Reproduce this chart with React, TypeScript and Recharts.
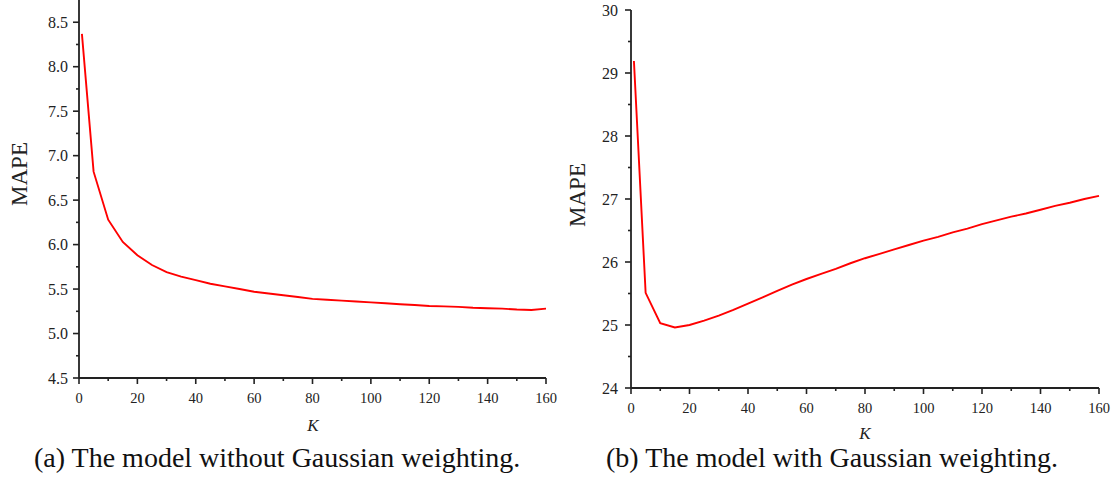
import { LineChart, Line, XAxis, YAxis } from 'recharts';

const K_VALUES = [1, 5, 10, 15, 20, 25, 30, 35, 40, 45, 50, 55, 60, 65, 70, 75, 80, 85, 90, 95, 100, 105, 110, 115, 120, 125, 130, 135, 140, 145, 150, 155, 160];

// (a) without Gaussian weighting
const MAPE_PLAIN = [8.37, 6.82, 6.28, 6.03, 5.88, 5.77, 5.69, 5.64, 5.6, 5.56, 5.53, 5.5, 5.47, 5.45, 5.43, 5.41, 5.39, 5.38, 5.37, 5.36, 5.35, 5.34, 5.33, 5.32, 5.31, 5.305, 5.3, 5.29, 5.285, 5.28, 5.27, 5.265, 5.28];

// (b) with Gaussian weighting
const MAPE_GAUSS = [29.19, 25.51, 25.03, 24.96, 25.0, 25.07, 25.15, 25.24, 25.34, 25.44, 25.54, 25.64, 25.73, 25.81, 25.89, 25.98, 26.06, 26.13, 26.2, 26.27, 26.34, 26.4, 26.47, 26.53, 26.6, 26.66, 26.72, 26.77, 26.83, 26.89, 26.94, 27.0, 27.05];

const X_MAJOR = [0, 20, 40, 60, 80, 100, 120, 140, 160];
const X_MINOR = [10, 30, 50, 70, 90, 110, 130, 150];
const LEFT_Y_MAJOR = [4.5, 5.0, 5.5, 6.0, 6.5, 7.0, 7.5, 8.0, 8.5];
const LEFT_Y_MINOR = [4.75, 5.25, 5.75, 6.25, 6.75, 7.25, 7.75, 8.25];
const RIGHT_Y_MAJOR = [24, 25, 26, 27, 28, 29, 30];
const RIGHT_Y_MINOR = [24.5, 25.5, 26.5, 27.5, 28.5, 29.5];

const TITLES = ['(a) The model without Gaussian weighting.', '(b) The model with Gaussian weighting.'];

const SERIF = '"Liberation Serif", "Times New Roman", serif';
const AXIS = '#222';
const INK = '#222';

const sorted = (a: number[], b: number[]) => [...a, ...b].sort((p, q) => p - q);

const plainData = K_VALUES.map((k, i) => ({ k, mape: MAPE_PLAIN[i] }));
const gaussData = K_VALUES.map((k, i) => ({ k, mape: MAPE_GAUSS[i] }));

// ticks point outward, majors longer, only majors get a label
const makeXTick = (major: number[]) => (props: any) => {
  const { x, y, payload } = props;
  const isMajor = major.includes(payload.value);
  return (
    <g>
      <line x1={x} x2={x} y1={y} y2={y + (isMajor ? 6 : 3)} stroke={AXIS} strokeWidth={1.6} />
      {isMajor && (
        <text x={x} y={y + 20} textAnchor="middle" dominantBaseline="central" fontFamily={SERIF} fontSize={14.5} fill={INK}>
          {payload.value}
        </text>
      )}
    </g>
  );
};

const makeYTick = (major: number[], fmt: (v: number) => string, gap: number) => (props: any) => {
  const { x, y, payload } = props;
  const isMajor = major.includes(payload.value);
  return (
    <g>
      <line x1={x - (isMajor ? 6 : 3)} x2={x} y1={y} y2={y} stroke={AXIS} strokeWidth={1.6} />
      {isMajor && (
        <text x={x - gap} y={y} textAnchor="end" dominantBaseline="central" fontFamily={SERIF} fontSize={16} fill={INK}>
          {fmt(payload.value)}
        </text>
      )}
    </g>
  );
};

const abs = (left: number, top: number): React.CSSProperties => ({ position: 'absolute', left, top });

export default function App() {
  return (
    <div style={{ position: 'absolute', left: 0, top: 0, width: 1120, height: 482, background: '#fff', overflow: 'hidden' }}>
      <div style={abs(0, 0)}>
        <LineChart width={560} height={430} data={plainData} margin={{ top: 0, right: 14, bottom: 2, left: 0 }}>
          <XAxis
            dataKey="k"
            type="number"
            domain={[0, 160]}
            ticks={sorted(X_MAJOR, X_MINOR)}
            interval={0}
            height={50}
            tickSize={0}
            tickMargin={0}
            tickLine={false}
            axisLine={{ stroke: AXIS, strokeWidth: 1.8 }}
            tick={makeXTick(X_MAJOR)}
          />
          <YAxis
            type="number"
            domain={[4.5, 8.75]}
            ticks={sorted(LEFT_Y_MAJOR, LEFT_Y_MINOR)}
            interval={0}
            width={79}
            tickSize={0}
            tickMargin={0}
            tickLine={false}
            axisLine={{ stroke: AXIS, strokeWidth: 1.8 }}
            tick={makeYTick(LEFT_Y_MAJOR, (v) => v.toFixed(1), 11)}
          />
          <Line dataKey="mape" type="linear" stroke="#ff0000" strokeWidth={1.9} dot={false} isAnimationActive={false} />
        </LineChart>
      </div>
      <div style={abs(560, 0)}>
        <LineChart width={560} height={440} data={gaussData} margin={{ top: 10, right: 21, bottom: 2, left: 0 }}>
          <XAxis
            dataKey="k"
            type="number"
            domain={[0, 160]}
            ticks={sorted(X_MAJOR, X_MINOR)}
            interval={0}
            height={50}
            tickSize={0}
            tickMargin={0}
            tickLine={false}
            axisLine={{ stroke: AXIS, strokeWidth: 1.8 }}
            tick={makeXTick(X_MAJOR)}
          />
          <YAxis
            type="number"
            domain={[24, 30]}
            ticks={sorted(RIGHT_Y_MAJOR, RIGHT_Y_MINOR)}
            interval={0}
            width={71}
            tickSize={0}
            tickMargin={0}
            tickLine={false}
            axisLine={{ stroke: AXIS, strokeWidth: 1.8 }}
            tick={makeYTick(RIGHT_Y_MAJOR, (v) => String(v), 13)}
          />
          <Line dataKey="mape" type="linear" stroke="#ff0000" strokeWidth={1.9} dot={false} isAnimationActive={false} />
        </LineChart>
      </div>

      {/* axis titles */}
      <div style={{ ...abs(19, 174), transform: 'translate(-50%, -50%) rotate(-90deg)', fontFamily: SERIF, fontSize: 23, color: INK, lineHeight: 1 }}>MAPE</div>
      <div style={{ ...abs(577, 195), transform: 'translate(-50%, -50%) rotate(-90deg)', fontFamily: SERIF, fontSize: 23, color: INK, lineHeight: 1 }}>MAPE</div>
      <div style={{ ...abs(313, 425), transform: 'translate(-50%, -50%)', fontFamily: SERIF, fontStyle: 'italic', fontSize: 17, color: INK, lineHeight: 1 }}>K</div>
      <div style={{ ...abs(865, 433), transform: 'translate(-50%, -50%)', fontFamily: SERIF, fontStyle: 'italic', fontSize: 17, color: INK, lineHeight: 1 }}>K</div>

      {/* sub-figure captions */}
      <div style={{ ...abs(34, 444), fontFamily: SERIF, fontSize: 28, color: '#111', lineHeight: 1, whiteSpace: 'nowrap' }}>{TITLES[0]}</div>
      <div style={{ ...abs(606, 444), fontFamily: SERIF, fontSize: 28, color: '#111', lineHeight: 1, whiteSpace: 'nowrap' }}>{TITLES[1]}</div>
    </div>
  );
}
